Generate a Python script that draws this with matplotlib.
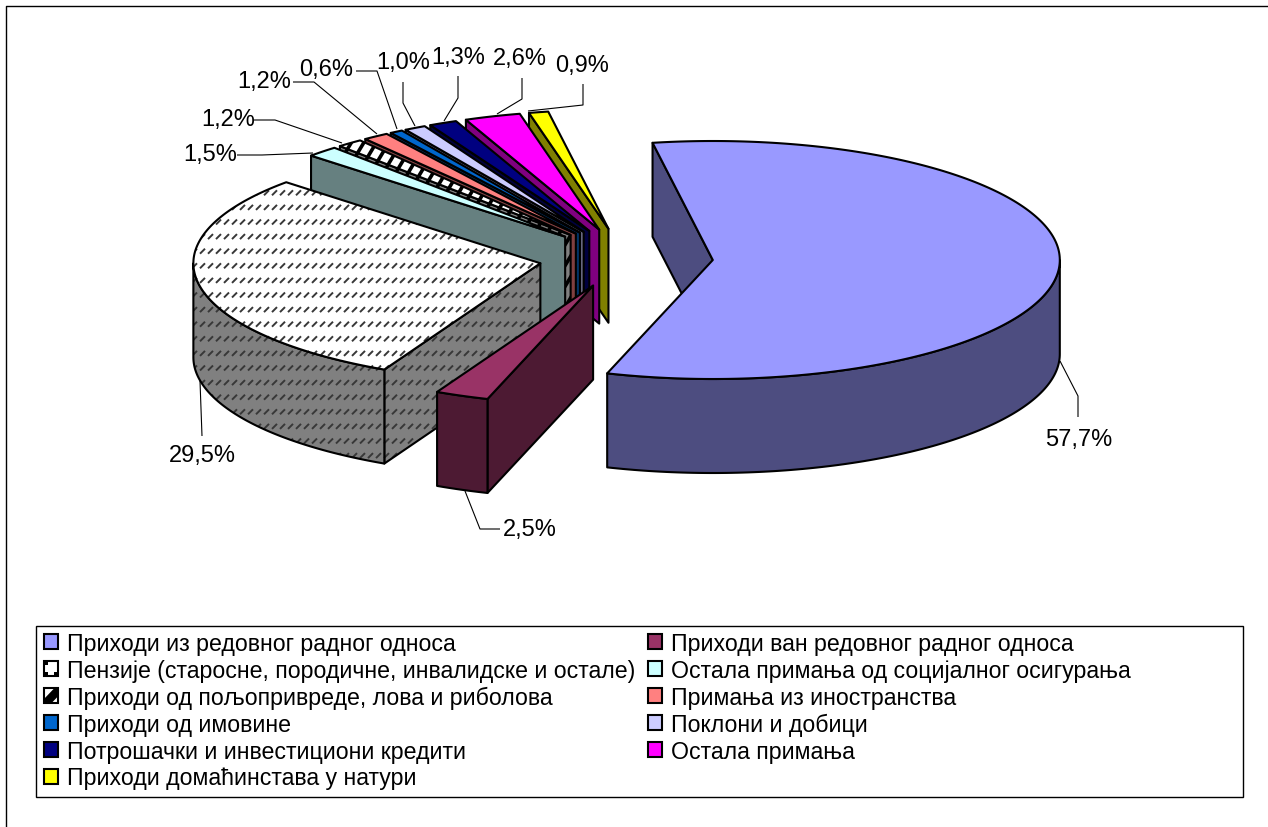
import numpy as np
import matplotlib
matplotlib.use("Agg")
import matplotlib.pyplot as plt
from matplotlib.patches import Polygon, Patch, Rectangle
from matplotlib.collections import LineCollection
from matplotlib.legend_handler import HandlerPatch

# ---------- data ----------
categories = [
    "Приходи из редовног радног односа",
    "Приходи ван редовног радног односа",
    "Пензије (старосне, породичне, инвалидске и остале)",
    "Остала примања од социјалног осигурања",
    "Приходи од пољопривреде, лова и риболова",
    "Примања из иностранства",
    "Приходи од имовине",
    "Поклони и добици",
    "Потрошачки и инвестициони кредити",
    "Остала примања",
    "Приходи домаћинстава у натури",
]
values = [57.7, 2.5, 29.5, 1.5, 1.2, 1.2, 0.6, 1.0, 1.3, 2.6, 0.9]
value_labels = ["57,7%", "2,5%", "29,5%", "1,5%", "1,2%", "1,2%", "0,6%", "1,0%", "1,3%", "2,6%", "0,9%"]

# ---------- styles ----------
top_colors = ["#9999FF", "#993366", "#FFFFFF", "#CCFFFF", "#FFFFFF", "#FF8080",
              "#0066CC", "#CCCCFF", "#000080", "#FF00FF", "#FFFF00"]
side_colors = ["#4D4D80", "#4D1A33", "#808080", "#668080", "#808080", "#804040",
               "#003366", "#666680", "#000040", "#800080", "#808000"]
DOTS, STRIPES = 2, 4

# ---------- layout (pixels) ----------
W, H = 1268, 828
CX, CY = 626, 259
RX, RY = 347, 119
EXPLODE = 87
DEPTH = 94
START = -10.0
EDGE_LW = 1.5

text_xy = [(1079, 440), (530, 530), (202, 456), (210, 155), (228, 120), (264, 82),
           (326, 70), (403, 63), (458, 58), (520, 59), (582, 66)]
leaders = [
    [(1060, 362), (1078, 397), (1078, 418)],
    [(465, 492), (480, 530), (500, 530)],
    [(200, 382), (202, 437)],
    [(313, 154), (262, 156), (237, 156)],
    [(342, 144), (275, 121), (254, 121)],
    [(377, 135), (314, 83), (293, 83)],
    [(397, 130), (377, 72), (356, 72)],
    [(415, 127), (403, 104), (403, 83)],
    [(444, 122), (458, 99), (458, 77)],
    [(497, 115), (522, 100), (522, 79)],
    [(528, 112), (583, 106), (583, 85)],
]

plt.rcParams["font.family"] = ["Liberation Sans", "DejaVu Sans"]
fig = plt.figure(figsize=(W / 100, H / 100), dpi=100, facecolor="white")
ax = fig.add_axes([0, 0, 1, 1])
ax.set_xlim(0, W)
ax.set_ylim(H, 0)
ax.axis("off")


def dot_texture(clip):
    xs = np.arange(0, W, 8.0)
    ys = np.arange(4, H, 14.6)
    segs = [[(x, y + 2.5), (x + 5, y - 2.5)] for y in ys for x in xs]
    lc = LineCollection(segs, colors="#383838", linewidths=1.4, zorder=clip.get_zorder(),
                        capstyle="butt")
    ax.add_collection(lc)
    lc.set_clip_path(clip)


def stripe_texture(clip):
    xs = np.arange(0, W + H, 12.5)
    segs = [[(x, 0), (x - H * 0.6, H)] for x in xs]
    lc = LineCollection(segs, colors="black", linewidths=2.6, zorder=clip.get_zorder())
    ax.add_collection(lc)
    lc.set_clip_path(clip)


_z = [2]


def next_z():
    _z[0] += 1
    return _z[0]


def add_poly(pts, color, texture=None):
    """fill, texture, then outline so the texture stays inside the edge"""
    base = Polygon(pts, closed=True, facecolor=color, edgecolor="none", zorder=next_z())
    ax.add_patch(base)
    if texture is not None:
        texture(base)
    line = Polygon(pts, closed=True, facecolor="none", edgecolor="black",
                   linewidth=EDGE_LW, joinstyle="round", zorder=next_z())
    ax.add_patch(line)


def ell(cx, cy, deg):
    a = np.radians(deg)
    return cx + RX * np.sin(a), cy - RY * np.cos(a)


shares = np.array(values) / sum(values) * 360
starts = START + np.concatenate([[0], np.cumsum(shares)[:-1]])

# back to front: last slice first, the big first slice at the end
for i in range(len(values) - 1, -1, -1):
    a0, a1 = starts[i], starts[i] + shares[i]
    mid = np.radians((a0 + a1) / 2)
    cx = CX + EXPLODE * np.sin(mid)
    cy = CY - EXPLODE * np.cos(mid) * RY / RX
    tex = dot_texture if i == DOTS else stripe_texture if i == STRIPES else None

    # cut face on the leading side when it looks towards the viewer
    if np.sin(np.radians(a0)) < 0:
        p = ell(cx, cy, a0)
        add_poly([(cx, cy), p, (p[0], p[1] + DEPTH), (cx, cy + DEPTH)], side_colors[i], tex)
    if np.sin(np.radians(a1)) > 0:
        p = ell(cx, cy, a1)
        add_poly([(cx, cy), p, (p[0], p[1] + DEPTH), (cx, cy + DEPTH)], side_colors[i], tex)

    # outer wall: the part of the rim on the near half of the ellipse
    lo, hi = max(a0, 90), min(a1, 270)
    if hi > lo:
        th = np.linspace(lo, hi, 120)
        rim = [ell(cx, cy, t) for t in th]
        low = [(x, y + DEPTH) for x, y in rim[::-1]]
        add_poly(rim + low, side_colors[i], tex)

    # top surface
    th = np.linspace(a0, a1, max(8, int((a1 - a0) * 2)))
    add_poly([(cx, cy)] + [ell(cx, cy, t) for t in th], top_colors[i], tex)

# value labels and leader lines
for lab, xy, pts in zip(value_labels, text_xy, leaders):
    ax.text(xy[0], xy[1], lab, fontsize=17, ha="center", va="center", color="black", zorder=900)
    xs, ys = zip(*pts)
    ax.plot(xs, ys, color="black", lw=0.8, zorder=899, solid_capstyle="butt")

# chart frame (only top and left edges fall inside the picture)
ax.plot([6, 6, W], [H, 7, 7], color="black", lw=1.0, zorder=1, clip_on=False)


class TexturedSwatch(HandlerPatch):
    """Legend key with the small dotted or striped pattern of the slice."""

    def __init__(self, kind):
        super().__init__()
        self.kind = kind

    def create_artists(self, legend, orig, xd, yd, w, h, fontsize, trans):
        x0, y0 = -xd, -yd
        box = Rectangle((x0, y0), w, h, facecolor="white", edgecolor="black", linewidth=1.5, transform=trans)
        arts = []
        if self.kind == "dots":
            s = 0.2
            for fx, fy in [(0.08, 0.08), (0.72, 0.08), (0.08, 0.72)]:
                arts.append(Rectangle((x0 + fx * w, y0 + fy * h), s * w, s * h, facecolor="black",
                                      edgecolor="none", transform=trans))
        else:
            pts = [(0.0, 0.0), (0.0, 0.25), (0.75, 1.0), (1.0, 1.0), (1.0, 0.45), (0.55, 0.0)]
            arts.append(Polygon([(x0 + a * w, y0 + b * h) for a, b in pts], closed=True,
                                facecolor="black", edgecolor="none", transform=trans))
        return [box] + arts


# legend
ax.add_patch(Rectangle((36, 626.5), 1207, 171, facecolor="white", edgecolor="black", lw=1.0, zorder=1))
handles = [Patch(facecolor=c, edgecolor="black", linewidth=1.5, label=n) for c, n in zip(top_colors, categories)]
order = list(range(0, len(categories), 2)) + list(range(1, len(categories), 2))
leg = ax.legend(
    [handles[i] for i in order], [categories[i] for i in order],
    handler_map={handles[DOTS]: TexturedSwatch("dots"), handles[STRIPES]: TexturedSwatch("stripes")},
    ncols=2, loc="upper left", bbox_to_anchor=(43.5, 633), bbox_transform=ax.transData,
    frameon=False, fontsize=16.65, borderpad=0, borderaxespad=0,
    handlelength=0.62, handleheight=0.62, handletextpad=0.38,
    labelspacing=0.167, columnspacing=0.56,
)
leg.set_zorder(950)

fig.savefig("out.png", dpi=100, facecolor="white")
